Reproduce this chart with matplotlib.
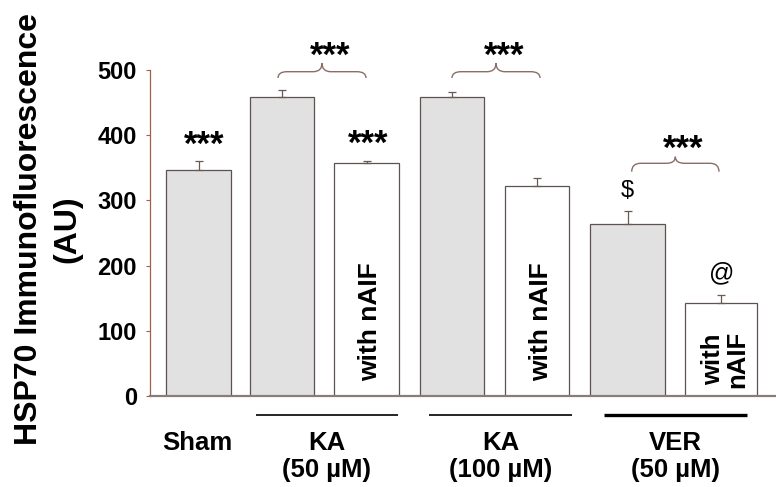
import matplotlib
matplotlib.use("Agg")
import matplotlib.pyplot as plt
from matplotlib.path import Path
from matplotlib.patches import PathPatch
import numpy as np

plt.rcParams['font.family'] = ['Liberation Sans', 'DejaVu Sans']

# ---------------- data ----------------
bar_values = [346, 458, 357, 458, 322, 264, 143]
bar_errors = [14, 12, 3, 9, 13, 20, 12]
bar_is_naif = [False, False, True, False, True, False, True]
group_labels = ['Sham', 'KA\n(50 µM)', 'KA\n(100 µM)', 'VER\n(50 µM)']
y_ticks = [0, 100, 200, 300, 400, 500]
y_label = 'HSP70 Immunofluorescence\n(AU)'

# ---------------- layout ----------------
W, H = 776, 487
fig = plt.figure(figsize=(W / 100, H / 100), dpi=100)
ax_l, ax_b, ax_w, ax_h = 150, 91, 626, 326
ax = fig.add_axes([ax_l / W, ax_b / H, ax_w / W, ax_h / H])
ax.set_xlim(0, ax_w)
ax.set_ylim(0, 500)
py = 326 / 500  # pixels per unit

centers = [48.5, 132, 216.5, 302, 387, 477.5, 570.5]
widths = [65, 64, 65, 64, 64, 75, 72]

gray = '#e1e1e1'
edge = '#5e5250'
for c, w, v, e, naif in zip(centers, widths, bar_values, bar_errors, bar_is_naif):
    ax.bar(c, v, width=w, color='white' if naif else gray,
           edgecolor=edge, linewidth=0.9, zorder=2)
    ax.errorbar(c, v, yerr=[[0], [e]], fmt='none', ecolor='#6a5a55',
                elinewidth=0.9, capsize=3, capthick=0.9, zorder=3)

# spines and ticks
for s in ['top', 'right']:
    ax.spines[s].set_visible(False)
ax.spines['left'].set_color('#a0604a')
ax.spines['left'].set_linewidth(0.9)
ax.spines['left'].set_bounds(0, 500)
ax.spines['bottom'].set_color('#8a7c78')
ax.spines['bottom'].set_linewidth(1.6)
ax.set_xticks([])
ax.set_yticks(y_ticks)
ax.set_yticklabels([str(t) for t in y_ticks], fontsize=17, fontweight='bold')
ax.tick_params(axis='y', direction='out', length=3, width=0.8,
               color='#a0604a', pad=6.5)

fig.text(48 / W, (H - 229) / H, y_label, rotation=90, ha='center',
         va='center', multialignment='center', fontsize=23,
         fontweight='bold', linespacing=1.38)


def val(pix):
    return (396 - pix) / py


# "with nAIF" labels inside white bars
ax.text(centers[2] + 4, val(322), 'with nAIF', rotation=90,
        ha='center', va='center', fontsize=19, fontweight='bold')
ax.text(centers[4] + 4, val(322), 'with nAIF', rotation=90,
        ha='center', va='center', fontsize=19, fontweight='bold')
ax.text(centers[6] + 5, val(359), 'with\nnAIF', rotation=90,
        ha='center', va='center', fontsize=18.5, fontweight='bold',
        multialignment='center', linespacing=1.0)


def brace(x0, x1, yh, yend, ypeak, r=9):
    xc = (x0 + x1) / 2
    verts = [(x0, yend), (x0, yh), (x0 + r, yh),
             (xc - r, yh), (xc, yh), (xc, ypeak),
             (xc, yh), (xc + r, yh),
             (x1 - r, yh), (x1, yh), (x1, yend)]
    codes = [Path.MOVETO, Path.CURVE3, Path.CURVE3,
             Path.LINETO, Path.CURVE3, Path.CURVE3,
             Path.CURVE3, Path.CURVE3,
             Path.LINETO, Path.CURVE3, Path.CURVE3]
    ax.add_patch(PathPatch(Path(verts, codes), fill=False,
                           edgecolor='#8a6e66', linewidth=1.0,
                           clip_on=False))


brace(128, 216, val(71.7), val(78), val(63.3))
brace(302, 390, val(71.7), val(78), val(63.3))
brace(481.7, 569, val(163.3), val(171.7), val(156.7))


def stars(x, ypix):
    ax.text(x, val(ypix), '***', ha='center', va='center', fontsize=25,
            fontweight='bold', clip_on=False)


stars(54, 145)
stars(217.7, 144)
stars(180, 56)
stars(354, 56)
stars(533, 149)

ax.text(477, val(190.7), '$', ha='center', va='center', fontsize=17)
ax.text(571.7, val(273), '@', ha='center', va='center', fontsize=18)

# group underlines
for (a, b, lw) in [(106, 248, 1.2), (279, 422, 1.2), (454, 597, 2.4)]:
    ax.plot([a, b], [val(415)] * 2, color='black', linewidth=lw,
            clip_on=False, solid_capstyle='butt')

# group labels
ax.text(47, val(442.5), group_labels[0], ha='center', va='center',
        fontsize=18.5, fontweight='bold', clip_on=False)
for x, lab in zip([177, 350.5, 525.5], group_labels[1:]):
    ax.text(x, val(456.5), lab, ha='center', va='center', fontsize=18.5,
            fontweight='bold', multialignment='center', linespacing=1.15,
            clip_on=False)

fig.savefig('out.png', dpi=100)
